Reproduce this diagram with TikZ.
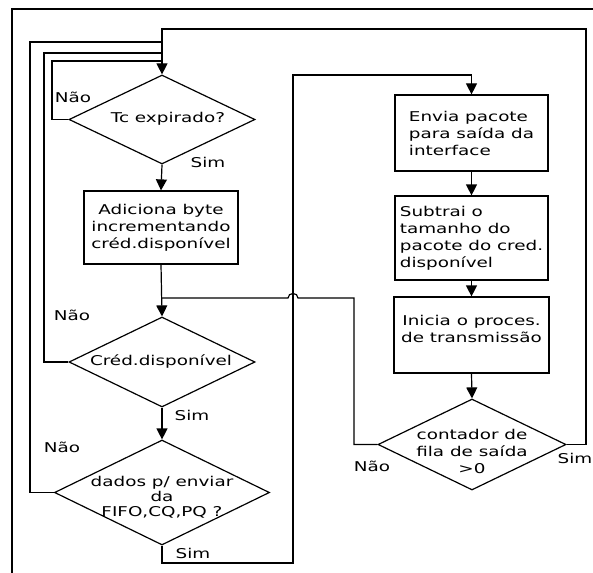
\documentclass[tikz,border=0pt]{standalone}
\usepackage{fontspec}
\setmainfont{DejaVu Sans}[FakeStretch=1.36]
\usetikzlibrary{shapes.geometric,arrows.meta}

\begin{document}
\begin{tikzpicture}[x=1pt,y=1pt,
    every node/.style={font=\fontsize{13.5}{17}\selectfont},
    caixa/.style={draw,line width=1.2pt,inner sep=0pt},
    decisao/.style={draw,diamond,line width=1.2pt,inner sep=0pt},
    seta/.style={line width=1.2pt,-{Triangle[width=11pt,length=11pt]}},
    linha/.style={line width=1.2pt}]
    \useasboundingbox (0,0) rectangle (593,-572);

    % moldura
    \draw [line width=1.8pt] (12,-590) |- (610,-9);

    % coluna da esquerda
    \node [decisao,minimum width=186pt,minimum height=89pt] (tc) at (162,-119.5) {};
    \node (tctxt) at (168,-119) {Tc expirado?};
    \node [caixa,minimum width=154pt,minimum height=73pt,align=center] (adic) at (161,-227.5)
        {Adiciona byte\\incrementando\\créd.disponível};
    \node [decisao,minimum width=186pt,minimum height=90pt] (cred) at (162,-362) {};
    \node (credtxt) at (161,-362) {Créd.disponível};
    \node [decisao,minimum width=215pt,minimum height=105pt] (dados) at (162,-492.5) {};
    \node [align=center,font=\fontsize{13.5}{15}\selectfont] (dadostxt) at (162,-497)
        {dados p/ enviar\\da\\FIFO,CQ,PQ ?};

    % coluna da direita
    \node [caixa,minimum width=153pt,minimum height=76pt,align=left] (envia) at (471.5,-133)
        {Envia pacote\\para saída da\\interface};
    \node [caixa,minimum width=153pt,minimum height=84pt,align=left] (subtr) at (471.5,-238)
        {Subtrai o\\tamanho do\\pacote do cred.\\disponível};
    \node [caixa,minimum width=155pt,minimum height=76pt,align=center,text depth=12pt] (inicia) at (471.5,-335)
        {Inicia o proces.\\de transmissão};
    \node [decisao,minimum width=188pt,minimum height=91pt] (cont) at (472,-444.5) {};
    \node [align=center] (conttxt) at (472,-451) {contador de\\fila de saída\\>0};

    % rotulos
    \node (nao1) at (73,-97) {Não};
    \node (sim1) at (208,-162) {Sim};
    \node (nao2) at (72,-315) {Não};
    \node (sim2) at (192,-415) {Sim};
    \node (nao3) at (62,-447) {Não};
    \node (sim3) at (193,-553) {Sim};
    \node (nao4) at (372,-466) {Não};
    \node (sim4) at (575,-458) {Sim};

    % ligacoes
    \draw [seta] (tc.south) -- (adic.north);
    \draw [seta] (adic.south) -- (cred.north);
    \draw [seta] (cred.south) -- (dados.north);
    \draw [seta] (dados.south) -- (162,-563) -| (293,-75) -| (envia.north);
    \draw [seta] (envia.south) -- (subtr.north);
    \draw [seta] (subtr.south) -- (inicia.north);
    \draw [seta] (inicia.south) -- (cont.north);
    \draw [seta] (cont.east) -| (586,-29) -| (tc.north);

    \coordinate (m2) at (162,-298);
    \draw [linha] (cont.west) -| (354,-298) -- (298,-298)
        .. controls (298,-292) and (288,-292) .. (288,-298) -- (m2);

    \draw [linha] (tc.west) -| (52,-61) -- (162,-61);
    \draw [linha] (cred.west) -| (44,-53) -- (162,-53);
    \draw [linha] (dados.west) -| (30,-42) -- (162,-42);
\end{tikzpicture}
\end{document}
